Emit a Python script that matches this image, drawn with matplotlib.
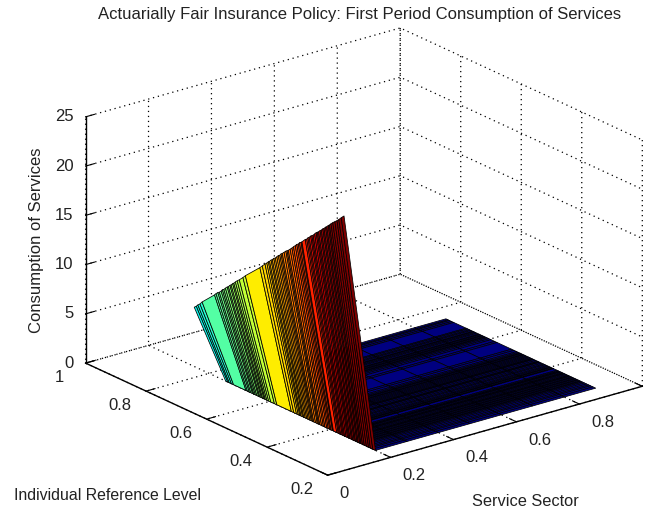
import numpy as np
import matplotlib
matplotlib.use("Agg")
import matplotlib.pyplot as plt
from matplotlib import cm
from mpl_toolkits.mplot3d import proj3d

plt.rcParams['font.family'] = ['Liberation Sans', 'DejaVu Sans']

# service sector grid
service = [0.1, 0.2, 0.3, 0.4, 0.5, 0.6, 0.7, 0.8, 0.9]

# individual reference levels, read from the stripes on the wedge
level = [.745, .738, .733, .726, .719, .678, .673, .667, .662, .656, .652, .647, .642,
         .636, .632, .627, .623, .618, .614, .609, .603, .596, .584, .576, .528, .520,
         .511, .505, .500, .496, .491, .487, .482, .477, .472, .467, .462, .458, .454,
         .448, .442, .438, .434, .428, .422, .417, .411, .406, .401, .397, .392, .389,
         .378, .373, .369, .365, .360, .356, .352, .347, .342, .338, .334, .329, .325,
         .320, .316, .311, .307, .302, .298, .293, .287, .280, .273, .267, .259, .250]

# consumption in the first service column, all other columns are zero
consumption = [8.4, 8.6, 8.8, 9.0, 9.3, 10.6, 10.8, 11.0, 11.1, 11.3, 11.5, 11.6, 11.8,
               12.0, 12.1, 12.3, 12.4, 12.6, 12.7, 12.9, 13.1, 13.3, 13.7, 14.0, 15.5, 15.8,
               16.1, 16.3, 16.5, 16.6, 16.8, 16.9, 17.1, 17.2, 17.4, 17.6, 17.7, 17.9, 18.0,
               18.2, 18.4, 18.5, 18.6, 18.8, 19.0, 19.2, 19.4, 19.6, 19.7, 19.9, 20.0, 20.1,
               20.5, 20.6, 20.8, 20.9, 21.1, 21.2, 21.3, 21.5, 21.7, 21.8, 21.9, 22.1, 22.2,
               22.4, 22.5, 22.7, 22.8, 23.0, 23.1, 23.3, 23.5, 23.7, 23.9, 24.1, 24.4, 24.7]

x_ticks = [0, 0.2, 0.4, 0.6, 0.8, 1]
x_labels = ['0', '0.2', '0.4', '0.6', '0.8']
y_ticks = [0.2, 0.4, 0.6, 0.8, 1]
y_labels = ['0.2', '0.4', '0.6', '0.8', '1']
z_ticks = [0, 5, 10, 15, 20, 25]
color_max = 23.5

X, Y = np.meshgrid(service, level)
Z = np.zeros(X.shape)
Z[:, 0] = consumption

fig = plt.figure(figsize=(6.54, 5.14), dpi=100)
ax = fig.add_axes([100 / 654, -1.5 / 514, 514 / 654, 1.0], projection='3d', proj_type='ortho')
ax.view_init(elev=21.2, azim=-128)
ax.set_box_aspect((396, 390, 262), zoom=1.17)

# each cell takes the colour of its higher corner, like the original stripes
colors = cm.jet(np.clip(np.vstack([Z[1:], Z[-1:]]) / color_max, 0, 1))
ax.plot_surface(X, Y, Z, facecolors=colors, rstride=1, cstride=1, shade=False,
                edgecolor='k', linewidth=0.55, antialiased=True)

ax.set_xlim(0, 1)
ax.set_ylim(0.2, 1)
ax.set_zlim(0, 25)
ax.set_xticks(x_ticks)
ax.set_yticks(y_ticks)
ax.set_zticks(z_ticks)
ax.tick_params(color='k', width=0.8)

for axis in (ax.xaxis, ax.yaxis, ax.zaxis):
    axis.pane.fill = False
    axis.pane.set_edgecolor('none')
    axis.line.set_color('k')
    axis.line.set_linewidth(1.0)
    axis._axinfo['grid'].update(color='k', linestyle=(0, (1, 3)), linewidth=0.9)
    axis._axinfo['tick'].update(inward_factor=0.0, outward_factor=0.35)
    # the labels are drawn below, the axis ones stay hidden
    axis.set_major_formatter(plt.NullFormatter())


def tick_text(x, y, z, s, ha):
    # project the 3d spot once, so the text has a plain 2d position
    px, py, _ = proj3d.proj_transform(x, y, z, ax.get_proj())
    ax.text2D(px, py, s, transform=ax.transData, ha=ha, va='center', fontsize=12, color='#222222')


# tick labels sit just outside the box, offset as in the original
for tick, lab in zip(x_ticks, x_labels):
    tick_text(tick - 0.054, 0.104, 0, lab, 'left')
for tick, lab in zip(y_ticks, y_labels):
    tick_text(-0.112, tick - 0.03, 0, lab, 'center')
for tick in z_ticks:
    tick_text(-0.024, 1.015, tick, str(tick), 'right')

fig.text(360 / 654, 1 - 15 / 514, "Actuarially Fair Insurance Policy: First Period Consumption of Services",
         ha='center', va='center', fontsize=12, color='#222222')
fig.text(108 / 654, 1 - 495 / 514, "Individual Reference Level", ha='center', va='center',
         fontsize=11.4, color='#222222')
fig.text(525 / 654, 1 - 502 / 514, "Service Sector", ha='center', va='center',
         fontsize=11.8, color='#222222')
fig.text(37 / 654, 1 - 240 / 514, "Consumption of Services", ha='center', va='center',
         rotation=90, fontsize=12, color='#222222')

fig.savefig("out.png", dpi=100)
